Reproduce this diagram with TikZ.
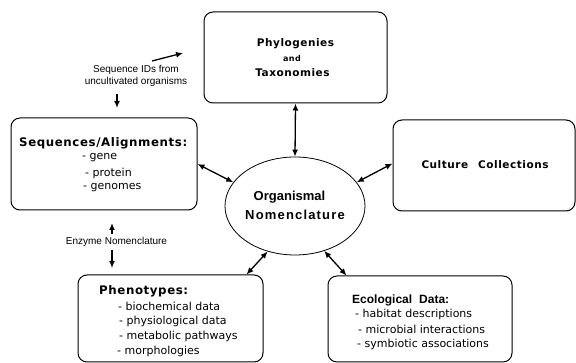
\documentclass[tikz,border=0pt]{standalone}
\usepackage{fontspec}
\setmainfont{DejaVu Sans}
\newfontfamily\headfont[LetterSpace=5]{DejaVu Sans}
\newfontfamily\orgfont{Liberation Sans}
\newfontfamily\orgwide[LetterSpace=9]{Liberation Sans}
\newfontfamily\notefont{Liberation Sans}
\usetikzlibrary{shapes.geometric,calc,arrows.meta}

\tikzset{
    box/.style={draw, rounded corners=9pt, line width=1pt, inner sep=0pt},
    link/.style={{Latex[length=7pt,width=6pt]}-{Latex[length=7pt,width=6pt]}, line width=1.3pt},
    feed/.style={-{Latex[length=7pt,width=6pt]}, line width=1.3pt},
    head/.style={inner sep=0pt, font=\headfont\bfseries\fontsize{11.8}{13}\selectfont},
    item/.style={inner sep=0pt, anchor=west, font=\fontsize{11}{13}\selectfont},
    note/.style={inner sep=0pt, align=center, font=\notefont\fontsize{10}{12}\selectfont},
}

\begin{document}
\begin{tikzpicture}[x=1pt,y=-1pt]
    \useasboundingbox (0,0) rectangle (576,363);

    \node[box, minimum width=183pt, minimum height=91pt] (phylo) at (295.5,57.5) {};
    \node[box, minimum width=186pt, minimum height=92pt] (seq) at (104,164) {};
    \node[box, minimum width=182pt, minimum height=91pt] (cult) at (484,165.5) {};
    \node[box, minimum width=185pt, minimum height=87pt] (pheno) at (170.5,318.5) {};
    \node[box, minimum width=184pt, minimum height=86pt] (eco) at (420,319) {};
    \node[draw, ellipse, line width=0.8pt, inner sep=0pt,
        minimum width=140pt, minimum height=98pt] (organism) at (295,206) {};

    \node[head, font=\headfont\bfseries\fontsize{10.5}{12}\selectfont] (phylot) at (295.5,44) {Phylogenies};
    \node[head, font=\headfont\bfseries\fontsize{8}{9}\selectfont] (andt) at (292,59) {and};
    \node[head, font=\headfont\bfseries\fontsize{10.5}{12}\selectfont] (taxot) at (292.5,73) {Taxonomies};

    \node[head, anchor=west] (seqt) at (19,143) {Sequences/Alignments:};
    \node[item] (gene) at (82,158) {- gene};
    \node[item] (protein) at (85,173) {- protein};
    \node[item] (genomes) at (83,188) {- genomes};

    \node[head, font=\headfont\bfseries\fontsize{10.5}{12}\selectfont] (cultt) at (485,165) {Culture\hspace{10pt}Collections};

    \node[inner sep=0pt, font=\orgfont\bfseries\fontsize{13}{15}\selectfont] (orgt) at (289.5,197) {Organismal};
    \node[inner sep=0pt, font=\orgwide\bfseries\fontsize{13}{15}\selectfont] (nomt) at (295,215) {Nomenclature};

    \node[head, anchor=west] (phenot) at (99,291) {Phenotypes:};
    \node[item] (bio) at (118,306) {- biochemical data};
    \node[item] (phys) at (119,321) {- physiological data};
    \node[item] (meta) at (119,336) {- metabolic pathways};
    \node[item] (morph) at (117,351) {- morphologies};

    \node[inner sep=0pt, anchor=west, font=\orgfont\bfseries\fontsize{12}{14}\selectfont] (ecot) at (352,300) {Ecological\hspace{7pt}Data:};
    \node[item] (habitat) at (355,314) {- habitat descriptions};
    \node[item] (microbe) at (358,329) {- microbial interactions};
    \node[item] (symb) at (357,344) {- symbiotic associations};

    \node[note] (ids) at (136,76) {Sequence IDs from\\uncultivated organisms};
    \node[note] (enzyme) at (116.5,242) {Enzyme Nomenclature};

    \coordinate (idsR) at (152,61);
    \coordinate (idsRtip) at (183,53);
    \coordinate (idsD) at (117,94);
    \coordinate (idsDtip) at (117,108);
    \coordinate (enzU) at (112,234);
    \coordinate (enzUtip) at (112,223);
    \coordinate (enzD) at (112,250);
    \coordinate (enzDtip) at (112,268);

    \draw[link] (phylo.south) -- (organism.north);
    \draw[link] (seq.east) -- (organism.159);
    \draw[link] (organism.21) -- ([yshift=2pt]cult.west);
    \draw[link] (organism.239) -- ([xshift=-17pt]pheno.north east);
    \draw[link] (organism.303) -- ([xshift=19pt]eco.north west);

    \draw[feed] (idsR) -- (idsRtip);
    \draw[feed] (idsD) -- (idsDtip);
    \draw[feed] (enzU) -- (enzUtip);
    \draw[feed] (enzD) -- (enzDtip);
\end{tikzpicture}
\end{document}
